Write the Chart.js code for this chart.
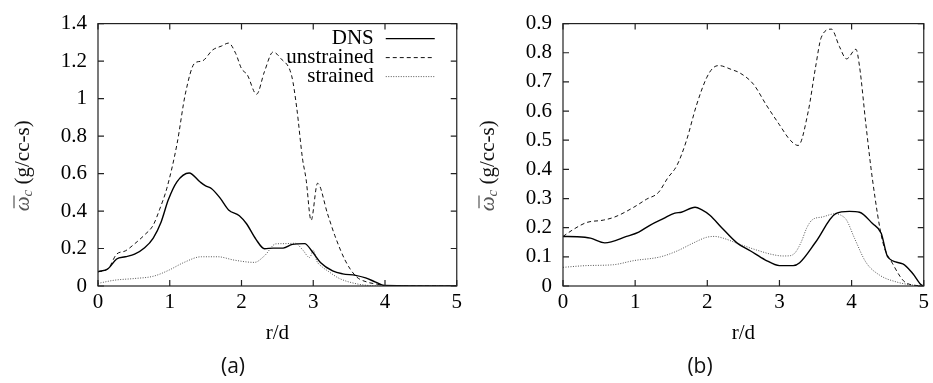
<!DOCTYPE html>
<html lang="en">
<head>
    <meta charset="UTF-8">
    <title>Mean reaction rate vs r/d</title>
    <style>
        body {
            margin: 0;
            background: #fff;
        }
        #wrap {
            position: relative;
            width: 933px;
            height: 383px;
        }
        canvas {
            position: absolute;
            top: 0;
        }
        .cap {
            position: absolute;
            top: 351px;
            width: 120px;
            text-align: center;
            font-family: 'Open Sans', sans-serif;
            font-size: 21px;
            color: #111;
        }
    </style>
    <script src="https://cdn.jsdelivr.net/npm/chart.js"></script>
</head>
<body>
<div id="wrap">
    <canvas id="chartA" width="466" height="383" style="left:0"></canvas>
    <canvas id="chartB" width="468" height="383" style="left:465px"></canvas>
    <div class="cap" style="left:173px">(a)</div>
    <div class="cap" style="left:640px">(b)</div>
</div>
<script>
    // series labels
    const seriesLabels = ['DNS', 'unstrained', 'strained'];

    // panel (a): r/d positions and omega values
    const dnsXA = [0, 0.14, 0.26, 0.38, 0.51, 0.65, 0.77, 0.88, 0.98, 1.1, 1.27, 1.42, 1.5, 1.58, 1.7, 1.82, 1.97, 2.07, 2.2, 2.32, 2.44, 2.58, 2.71, 2.88, 2.99, 3.1, 3.27, 3.41, 3.59, 3.73, 3.87, 3.99, 5];
    const dnsYA = [0.076, 0.092, 0.144, 0.156, 0.17, 0.204, 0.256, 0.342, 0.46, 0.556, 0.603, 0.556, 0.534, 0.52, 0.47, 0.406, 0.375, 0.332, 0.25, 0.199, 0.202, 0.202, 0.222, 0.226, 0.181, 0.126, 0.081, 0.065, 0.057, 0.043, 0.021, 0.003, 0];
    const unstrXA = [0, 0.14, 0.26, 0.38, 0.51, 0.65, 0.77, 0.86, 0.96, 1.1, 1.22, 1.35, 1.45, 1.6, 1.72, 1.82, 1.92, 2.0, 2.08, 2.21, 2.32, 2.44, 2.55, 2.7, 2.77, 2.85, 2.9, 2.97, 3.06, 3.2, 3.3, 3.45, 3.6, 3.75, 3.9, 4.0, 5];
    const unstrYA = [0.076, 0.092, 0.17, 0.187, 0.225, 0.273, 0.325, 0.41, 0.522, 0.755, 1.03, 1.19, 1.2, 1.26, 1.28, 1.296, 1.24, 1.16, 1.127, 1.023, 1.144, 1.248, 1.213, 1.12, 0.95, 0.68, 0.57, 0.35, 0.548, 0.384, 0.27, 0.133, 0.05, 0.021, 0.009, 0.002, 0];
    const strXA = [0, 0.23, 0.51, 0.77, 0.98, 1.2, 1.44, 1.67, 1.9, 2.18, 2.32, 2.48, 2.6, 2.75, 2.85, 2.95, 3.0, 3.05, 3.13, 3.2, 3.36, 3.6, 3.8, 4.0, 5];
    const strYA = [0.014, 0.031, 0.04, 0.052, 0.083, 0.126, 0.156, 0.156, 0.138, 0.126, 0.161, 0.225, 0.226, 0.228, 0.194, 0.152, 0.19, 0.133, 0.1, 0.081, 0.041, 0.012, 0.002, 0, 0];

    // panel (b)
    const dnsXB = [0, 0.2, 0.38, 0.58, 0.88, 1.05, 1.21, 1.39, 1.55, 1.64, 1.83, 1.92, 2.04, 2.2, 2.41, 2.6, 2.8, 3.0, 3.19, 3.28, 3.5, 3.78, 3.97, 4.11, 4.29, 4.41, 4.5, 4.71, 4.85, 4.96, 5];
    const dnsYB = [0.17, 0.169, 0.164, 0.148, 0.17, 0.185, 0.209, 0.231, 0.25, 0.253, 0.27, 0.262, 0.242, 0.2, 0.148, 0.12, 0.09, 0.07, 0.07, 0.08, 0.15, 0.248, 0.256, 0.253, 0.214, 0.181, 0.1, 0.076, 0.042, 0.005, 0];
    const unstrXB = [0, 0.15, 0.33, 0.56, 0.72, 0.98, 1.16, 1.32, 1.45, 1.58, 1.71, 1.85, 1.99, 2.08, 2.16, 2.34, 2.45, 2.64, 2.82, 3.0, 3.15, 3.26, 3.4, 3.5, 3.58, 3.72, 3.83, 3.93, 4.06, 4.11, 4.2, 4.29, 4.43, 4.57, 4.76, 5];
    const unstrYB = [0.17, 0.195, 0.218, 0.226, 0.237, 0.27, 0.298, 0.32, 0.37, 0.414, 0.498, 0.62, 0.714, 0.748, 0.756, 0.742, 0.731, 0.692, 0.62, 0.553, 0.5, 0.482, 0.6, 0.75, 0.853, 0.881, 0.822, 0.779, 0.812, 0.753, 0.55, 0.364, 0.153, 0.076, 0.01, 0];
    const strXB = [0, 0.33, 0.7, 0.98, 1.35, 1.58, 1.81, 1.99, 2.1, 2.22, 2.45, 2.7, 2.9, 3.05, 3.15, 3.22, 3.3, 3.38, 3.45, 3.6, 3.78, 3.85, 3.93, 4.04, 4.2, 4.39, 4.62, 4.85, 5];
    const strYB = [0.064, 0.07, 0.073, 0.087, 0.1, 0.12, 0.148, 0.167, 0.17, 0.164, 0.143, 0.122, 0.108, 0.103, 0.104, 0.115, 0.15, 0.2, 0.226, 0.237, 0.248, 0.243, 0.226, 0.164, 0.081, 0.037, 0.014, 0.003, 0];

    // axis ticks
    const xTicks = [0, 1, 2, 3, 4, 5];
    const yTicksA = [0, 0.2, 0.4, 0.6, 0.8, 1, 1.2, 1.4];
    const yTicksB = [0, 0.1, 0.2, 0.3, 0.4, 0.5, 0.6, 0.7, 0.8, 0.9];

    const FONT = 'Liberation Serif';
    Chart.defaults.font.family = FONT;
    Chart.defaults.color = '#000';

    const lineStyles = [
        { borderColor: '#000', borderWidth: 1.4, borderDash: [] },
        { borderColor: '#111', borderWidth: 1, borderDash: [4, 3] },
        { borderColor: '#555', borderWidth: 1, borderDash: [1, 1.5] }
    ];

    function pts(xs, ys) {
        return xs.map((x, i) => ({ x: x, y: ys[i] }));
    }

    // gnuplot style frame with inward ticks on all four sides
    const frame = {
        id: 'frame',
        afterDatasetsDraw(chart) {
            const { ctx, chartArea: a, scales: { x, y } } = chart;
            ctx.save();
            ctx.strokeStyle = '#222';
            ctx.lineWidth = 1.2;
            ctx.beginPath();
            x.ticks.forEach(t => {
                const px = x.getPixelForValue(t.value);
                ctx.moveTo(px, a.bottom); ctx.lineTo(px, a.bottom - 6);
                ctx.moveTo(px, a.top); ctx.lineTo(px, a.top + 6);
            });
            y.ticks.forEach(t => {
                const py = y.getPixelForValue(t.value);
                ctx.moveTo(a.left, py); ctx.lineTo(a.left + 6, py);
                ctx.moveTo(a.right, py); ctx.lineTo(a.right - 6, py);
            });
            ctx.stroke();
            ctx.strokeRect(a.left, a.top, a.right - a.left, a.bottom - a.top);
            ctx.restore();
        }
    };

    // key inside the plot: text then line sample
    const lineKey = {
        id: 'lineKey',
        afterDatasetsDraw(chart, args, opts) {
            if (!opts.show) return;
            const { ctx, chartArea: a } = chart;
            ctx.save();
            ctx.font = '21px "' + FONT + '"';
            ctx.textAlign = 'right';
            ctx.textBaseline = 'middle';
            chart.data.datasets.forEach((ds, i) => {
                const yy = a.top + 15 + i * 19;
                ctx.fillStyle = '#000';
                ctx.fillText(ds.label, a.right - 83, yy);
                ctx.strokeStyle = ds.borderColor;
                ctx.lineWidth = ds.borderWidth;
                ctx.setLineDash(ds.borderDash);
                ctx.beginPath();
                ctx.moveTo(a.right - 71, yy);
                ctx.lineTo(a.right - 22, yy);
                ctx.stroke();
                ctx.setLineDash([]);
            });
            ctx.restore();
        }
    };

    // rotated y title: omega with bar and subscript c, then units
    const yTitle = {
        id: 'yTitle',
        afterDraw(chart, args, opts) {
            const { ctx, chartArea: a } = chart;
            const f1 = 'italic 21px "' + FONT + '"', f2 = 'italic 15px "' + FONT + '"', f3 = '21px "' + FONT + '"';
            const s1 = 'ω', s2 = 'c', s3 = ' (g/cc-s)';
            ctx.save();
            ctx.translate(opts.x, (a.top + a.bottom) / 2 + opts.dy);
            ctx.rotate(-Math.PI / 2);
            ctx.textBaseline = 'middle';
            ctx.textAlign = 'left';
            ctx.font = f1; const w1 = ctx.measureText(s1).width;
            ctx.font = f2; const w2 = ctx.measureText(s2).width;
            ctx.font = f3; const w3 = ctx.measureText(s3).width;
            let sx = -(w1 + w2 + w3) / 2;
            ctx.fillStyle = '#555';
            ctx.strokeStyle = '#555';
            ctx.font = f1; ctx.fillText(s1, sx, 0);
            ctx.lineWidth = 1.2;
            ctx.beginPath();
            ctx.moveTo(sx + 3, -9); ctx.lineTo(sx + w1 + 1, -9);
            ctx.stroke();
            sx += w1;
            ctx.font = f2; ctx.fillText(s2, sx, 5); sx += w2;
            ctx.fillStyle = '#111';
            ctx.font = f3; ctx.fillText(s3, sx, 0);
            ctx.restore();
        }
    };

    function makeChart(id, series, yTicks, showKey) {
        const datasets = series.map((s, i) => Object.assign({
            label: seriesLabels[i],
            data: pts(s[0], s[1]),
            pointRadius: 0,
            fill: false,
            cubicInterpolationMode: 'monotone'
        }, lineStyles[i]));

        return new Chart(document.getElementById(id), {
            type: 'line',
            data: { datasets: datasets },
            options: {
                responsive: false,
                animation: false,
                events: [],
                layout: { padding: { top: 16, right: 8, bottom: 35, left: 0 } },
                scales: {
                    x: {
                        type: 'linear',
                        min: xTicks[0],
                        max: xTicks[xTicks.length - 1],
                        afterBuildTicks: sc => { sc.ticks = xTicks.map(v => ({ value: v })); },
                        afterFit: sc => { sc.height = 62; },
                        grid: { display: false, drawTicks: false },
                        border: { display: false },
                        ticks: {
                            padding: 4,
                            color: '#000',
                            font: { family: FONT, size: 21 },
                            callback: v => String(v)
                        },
                        title: {
                            display: true,
                            text: 'r/d',
                            color: '#000',
                            font: { family: FONT, size: 21 },
                            padding: { top: 0, bottom: 2 }
                        }
                    },
                    y: {
                        min: yTicks[0],
                        max: yTicks[yTicks.length - 1],
                        afterBuildTicks: sc => { sc.ticks = yTicks.map(v => ({ value: v })); },
                        afterFit: sc => { sc.width = 98; },
                        grid: { display: false, drawTicks: false },
                        border: { display: false },
                        ticks: {
                            padding: 11,
                            color: '#000',
                            font: { family: FONT, size: 21 },
                            callback: v => String(Math.round(v * 10) / 10)
                        }
                    }
                },
                plugins: {
                    legend: { display: false },
                    tooltip: { enabled: false },
                    lineKey: { show: showKey },
                    yTitle: { x: 23, dy: 11 }
                }
            },
            plugins: [frame, lineKey, yTitle]
        });
    }

    makeChart('chartA', [[dnsXA, dnsYA], [unstrXA, unstrYA], [strXA, strYA]], yTicksA, true);
    makeChart('chartB', [[dnsXB, dnsYB], [unstrXB, unstrYB], [strXB, strYB]], yTicksB, false);
</script>
</body>
</html>
